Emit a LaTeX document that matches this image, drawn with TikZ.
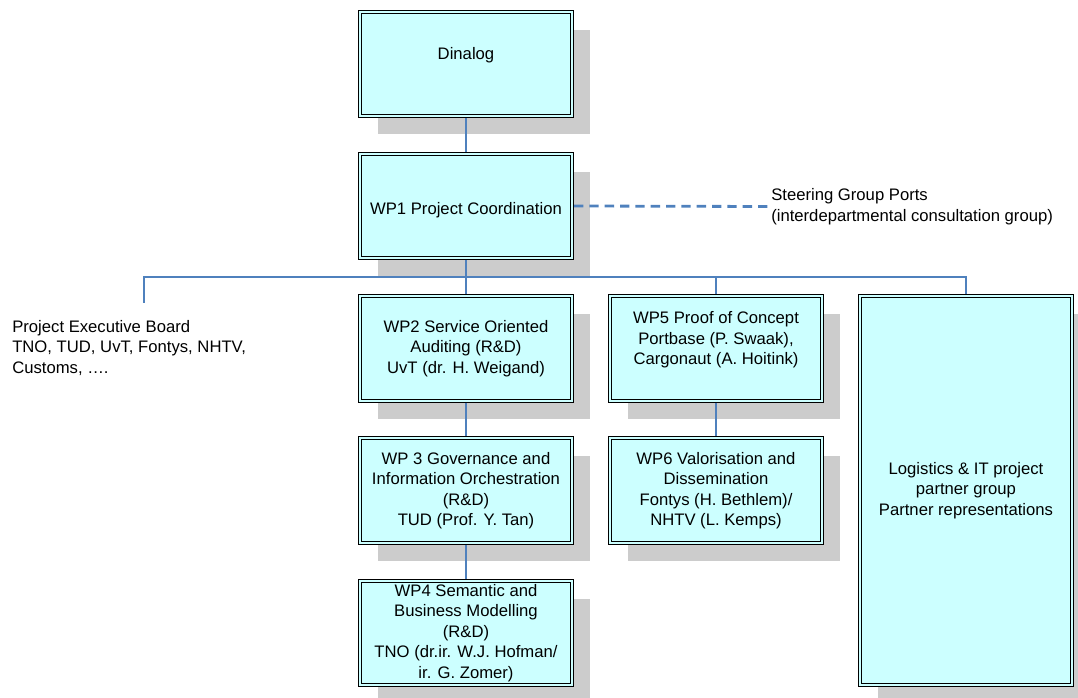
\documentclass[tikz,border=0pt]{standalone}
\usepackage{fontspec}
\setmainfont{Liberation Sans}
\usepackage{tikz}
\usetikzlibrary{shadows}
\definecolor{boxcyan}{HTML}{CCFFFF}
\definecolor{linkblue}{HTML}{4F81BD}
\definecolor{shadowgray}{HTML}{CCCCCC}

\begin{document}
\begin{tikzpicture}[
x=0.75pt, y=-0.75pt,
font=\fontsize{12.5}{15.3}\selectfont,
wpbox/.style={rectangle, draw=black, line width=0.85pt, double=boxcyan, double distance=1.4pt, fill=boxcyan, align=center, minimum width=159pt, minimum height=78.4pt, inner sep=1pt, outer sep=1.55pt, drop shadow={shadow xshift=13.5pt, shadow yshift=-13.5pt, fill=shadowgray, opacity=1}},
plain/.style={align=left, inner sep=0pt},
link/.style={draw=linkblue, line width=0.9pt},
dashlink/.style={draw=linkblue, line width=2.1pt, dash pattern=on 7pt off 4.5pt}
]
    % Page
    \clip (0,0) rectangle (1078,698);

    % Work package boxes
    \node[wpbox] (dinalog) at (466,64) {Dinalog\\\mbox{}};
    \node[wpbox] (wp1) at (466,206) {\mbox{}\\WP1 Project Coordination};
    \node[wpbox] (wp2) at (466,348.5) {WP2 Service Oriented\\Auditing (R\&D)\\UvT (dr. H. Weigand)};
    \node[wpbox] (wp3) at (466,490.5) {WP 3 Governance and\\Information Orchestration\\(R\&D)\\TUD (Prof. Y. Tan)};
    \node[wpbox] (wp4) at (466,633) {WP4 Semantic and\\Business Modelling\\(R\&D)\\TNO (dr.ir. W.J. Hofman/\\ir. G. Zomer)};
    \node[wpbox] (wp5) at (716,348.5) {WP5 Proof of Concept\\Portbase (P. Swaak),\\Cargonaut (A. Hoitink)\\\mbox{}};
    \node[wpbox] (wp6) at (716,490.5) {WP6 Valorisation and\\Dissemination\\Fontys (H. Bethlem)/\\NHTV (L. Kemps)};
    \node[wpbox, minimum height=291.75pt] (partners) at (966,490.5) {Logistics \& IT project\\partner group\\Partner representations};

    % Plain labels
    \node[plain, anchor=west] (board) at (12,348) {Project Executive Board\\TNO, TUD, UvT, Fontys, NHTV,\\Customs, ….};
    \node[plain, anchor=west, inner sep=2.25pt] (steering) at (768,206.5) {Steering Group Ports\\(interdepartmental consultation group)};

    % Lines
    \coordinate (bus) at (466,277);
    \coordinate (boardtop) at (144,303);
    \draw[link] (dinalog) -- (wp1);
    \draw[link] (wp1) -- (wp2);
    \draw[link] (boardtop) |- (bus) -| (partners.north);
    \draw[link] (bus -| wp5.north) -- (wp5.north);
    \draw[link] (wp2) -- (wp3);
    \draw[link] (wp3) -- (wp4);
    \draw[link] (wp5) -- (wp6);
    \draw[dashlink] (wp1.east) -- (steering.west);

\end{tikzpicture}
\end{document}
